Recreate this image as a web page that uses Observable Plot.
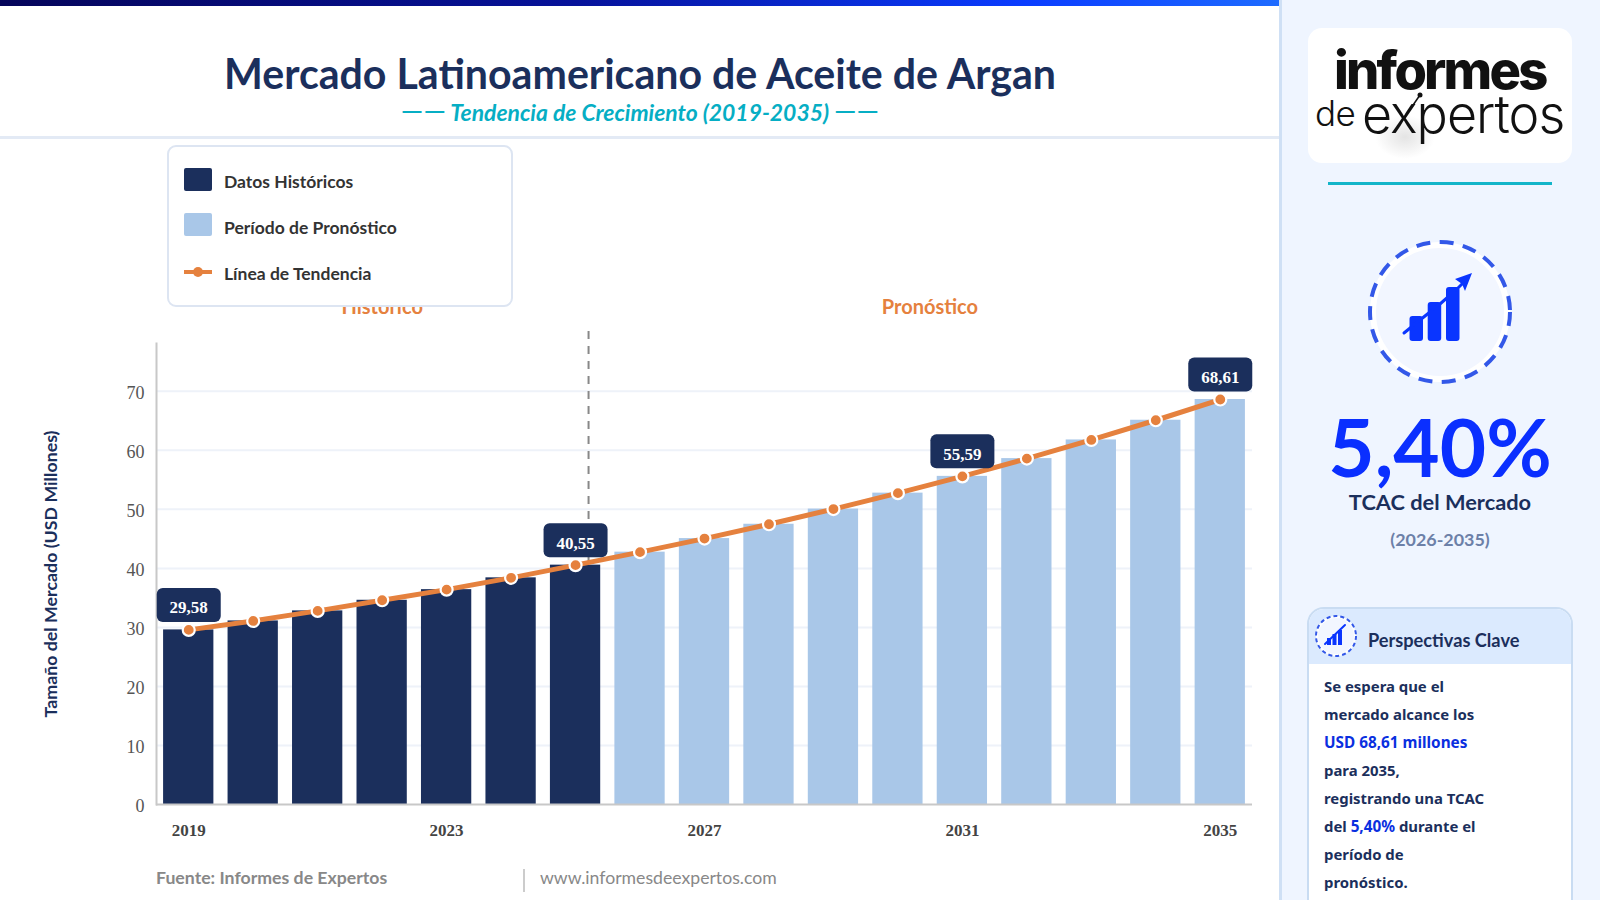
<!DOCTYPE html>
<html lang="es">
<head>
<meta charset="utf-8">
<title>Mercado Latinoamericano de Aceite de Argan</title>
<script src="https://cdn.jsdelivr.net/npm/d3@7"></script>
<script src="https://cdn.jsdelivr.net/npm/@observablehq/plot@0.6"></script>
<style>
html,body{margin:0;padding:0;width:1600px;height:900px;overflow:hidden;background:#fff;font-family:Lato,sans-serif}
.a{position:absolute;white-space:nowrap}
#topbar{left:0;top:0;width:1280px;height:6px;background:linear-gradient(90deg,#05055a 0%,#06129a 45%,#0a3cff 80%,#1e6bff 100%)}
#title{left:0;width:1280px;top:47px;text-align:center;font-size:41.1px;line-height:52px;font-weight:700;color:#1b2f5c}
#subtitle{left:0;width:1280px;top:96px;text-align:center;font-size:22.9px;line-height:28px;font-weight:700;font-style:italic;color:#06aec4}
#subtitle span{font-size:28.4px;font-style:normal;font-weight:400}
#rule{left:0;width:1280px;top:136px;height:3px;background:#e3eaf5}
#chart{left:0;top:290px}
#legend{left:167px;top:145px;width:342px;height:158px;background:#fff;border:2px solid #dde5f2;border-radius:9px;z-index:5}
.sw{position:absolute;left:15px;width:28px;height:23px;border-radius:2px}
.lt{position:absolute;left:55px;font-size:17.5px;line-height:22px;font-weight:700;color:#333;white-space:nowrap}
#fuente{left:156px;top:866px;font-size:17.7px;line-height:24px;font-weight:700;color:#888}
#sep{left:523px;top:869px;width:2px;height:23px;background:#ccc}
#web{left:540px;top:866px;font-size:17.65px;line-height:24px;color:#888}
#panel{left:1279px;top:0;width:321px;height:900px;background:#eff5ff;border-left:3px solid #cfe0f5;box-sizing:border-box}
#logo{left:1308px;top:28px;width:264px;height:135px;background:#fff;border-radius:14px}
#shadow{left:1375px;top:115px;width:60px;height:44px;background:radial-gradient(ellipse at center,#e4e4e4 0%,#ffffff 70%)}
.lg{color:#111;font-family:Inter,sans-serif}
#l1{left:1334px;top:48px;font-size:52.5px;line-height:44px;font-weight:800;letter-spacing:-2.8px}
#l2{left:1315px;top:98px;font-size:35px;line-height:30px;font-weight:300;letter-spacing:-.5px}
#l3{left:1362px;top:93px;font-size:52px;line-height:44px;font-weight:300;letter-spacing:-1px}
#teal{left:1328px;top:182px;width:224px;height:3px;background:#13b5c9}
#ic1{left:1360px;top:232px}
#kpi{left:1280px;width:320px;top:406px;text-align:center;font-size:80px;line-height:80px;font-weight:700;color:#0a2fff}
#kpil{left:1280px;width:320px;top:488px;text-align:center;font-size:21.8px;line-height:28px;font-weight:700;color:#1b2f5c}
#kpis{left:1280px;width:320px;top:527px;text-align:center;font-size:17.9px;line-height:24px;font-weight:700;color:#6c80a8}
#card{left:1307px;top:607px;width:266px;height:320px;background:#fff;border:2px solid #c9dcf2;border-radius:17px;box-sizing:border-box;overflow:hidden}
#cardh{position:absolute;left:0;top:0;right:0;height:55px;background:#dbeafe}
#ic2{left:1314px;top:614px}
#ct{left:1368px;top:627px;font-size:18.2px;line-height:26px;font-weight:700;color:#1b2f5c}
#body{left:1324px;top:672px;font-family:"Noto Sans",sans-serif;font-size:14.9px;line-height:28px;font-weight:700;color:#1b2f5c}
#body b{color:#0a2fe0;font-weight:700;font-size:15.3px}
</style>
</head>
<body>
<div class="a" id="topbar"></div>
<div class="a" id="title">Mercado Latinoamericano de Aceite de Argan</div>
<div class="a" id="subtitle"><span>——</span> Tendencia de Crecimiento (2019-2035) <span>——</span></div>
<div class="a" id="rule"></div>
<div class="a" id="chart"></div>
<div class="a" id="legend">
  <div class="sw" style="top:21px;background:#1b2f5c"></div><div class="lt" style="top:24px">Datos Históricos</div>
  <div class="sw" style="top:66px;background:#a9c7e8"></div><div class="lt" style="top:70px">Período de Pronóstico</div>
  <svg style="position:absolute;left:15px;top:117px" width="28" height="16"><line x1="0" x2="28" y1="8" y2="8" stroke="#e5813e" stroke-width="4"/><circle cx="14" cy="8" r="5" fill="#e5813e"/></svg>
  <div class="lt" style="top:116px">Línea de Tendencia</div>
</div>
<div class="a" id="fuente">Fuente: Informes de Expertos</div>
<div class="a" id="sep"></div>
<div class="a" id="web">www.informesdeexpertos.com</div>

<div class="a" id="panel"></div>
<div class="a" id="logo"></div>
<div class="a" id="shadow"></div>
<div class="a lg" id="l1">informes</div>
<div class="a lg" id="l2">de</div>
<div class="a lg" id="l3">expertos</div>
<svg class="a" style="left:1395px;top:90px" width="34" height="40"><line x1="25" y1="5" x2="7" y2="31" stroke="#111" stroke-width="1.500"/><circle cx="25" cy="5" r="2.500" fill="#111"/></svg>
<div class="a" id="teal"></div>
<svg class="a" id="ic1" width="160" height="160" viewBox="0 0 160 160">
  <circle cx="80" cy="80" r="67" fill="#f2f6ff" stroke="#fff" stroke-width="6"/>
  <circle cx="80" cy="80" r="70" fill="none" stroke="#3358e8" stroke-width="4" stroke-dasharray="14 9.5"/>
  <rect x="49.500" y="84" width="13.500" height="25" rx="3" fill="#0a35ff"/>
  <rect x="67.700" y="70" width="13.500" height="39" rx="3" fill="#0a35ff"/>
  <rect x="86" y="55" width="13.500" height="54" rx="3" fill="#0a35ff"/>
  <path d="M44 101 L60 88 L80 72 L96 58 L104 50" fill="none" stroke="#0a35ff" stroke-width="3" stroke-linecap="round"/>
  <path d="M112 41 L95 47 L102 52 L105 59 Z" fill="#0a35ff"/>
</svg>
<div class="a" id="kpi">5,40%</div>
<div class="a" id="kpil">TCAC del Mercado</div>
<div class="a" id="kpis">(2026-2035)</div>
<div class="a" id="card"><div id="cardh"></div></div>
<svg class="a" id="ic2" width="44" height="44" viewBox="0 0 44 44">
  <circle cx="22" cy="22" r="19" fill="#f2f6ff" stroke="#fff" stroke-width="2"/>
  <circle cx="22" cy="22" r="20" fill="none" stroke="#3358e8" stroke-width="2" stroke-dasharray="4 3"/>
  <rect x="13" y="24" width="4" height="7" fill="#0a35ff"/>
  <rect x="18.500" y="20" width="4" height="11" fill="#0a35ff"/>
  <rect x="24" y="16" width="4" height="15" fill="#0a35ff"/>
  <path d="M11 30 L31 11" stroke="#0a35ff" stroke-width="2" stroke-linecap="round"/>
</svg>
<div class="a" id="ct">Perspectivas Clave</div>
<div class="a" id="body">Se espera que el<br>mercado alcance los<br><b>USD 68,61 millones</b><br>para 2035,<br>registrando una TCAC<br>del <b>5,40%</b> durante el<br>período de<br>pronóstico.</div>

<script>
const years = [2019,2020,2021,2022,2023,2024,2025,2026,2027,2028,2029,2030,2031,2032,2033,2034,2035];
const values = [29.58,31.1,32.8,34.6,36.4,38.4,40.55,42.75,45.05,47.48,50.05,52.75,55.59,58.6,61.76,65.1,68.61];
const phases = ["Datos Históricos","Datos Históricos","Datos Históricos","Datos Históricos","Datos Históricos","Datos Históricos","Datos Históricos","Período de Pronóstico","Período de Pronóstico","Período de Pronóstico","Período de Pronóstico","Período de Pronóstico","Período de Pronóstico","Período de Pronóstico","Período de Pronóstico","Período de Pronóstico","Período de Pronóstico"];
const xTicks = [2019,2023,2027,2031,2035];
const yTicks = [0,10,20,30,40,50,60,70];
const labelYears = [2019,2025,2031,2035];
const yTitle = "Tamaño del Mercado (USD Millones)";

const rows = years.map((year,i)=>({year,value:values[i],phase:phases[i]}));
const labelled = rows.filter(d=>labelYears.includes(d.year));
const fmt = v => v.toFixed(2).replace(".",",");
const navy="#1b2f5c", light="#a9c7e8", orange="#e5813e";
const serif='"Liberation Serif",serif';

const labelBox = {draw(c){
  const w=32,h=17,r=6;
  c.moveTo(-w+r,-h);
  c.arcTo(w,-h,w,-h+r,r); c.arcTo(w,h,w-r,h,r);
  c.arcTo(-w,h,-w,h-r,r); c.arcTo(-w,-h,-w+r,-h,r);
  c.closePath();
}};

const plot = Plot.plot({
  width:1280, height:610,
  marginTop:53, marginBottom:96, marginLeft:156, marginRight:28,
  style:{background:"transparent",overflow:"visible"},
  x:{type:"band",domain:years,paddingInner:.22,paddingOuter:.11,round:false,label:null},
  y:{domain:[0,78.1],label:null},
  color:{domain:["Datos Históricos","Período de Pronóstico"],range:[navy,light]},
  marks:[
    Plot.gridY(yTicks.slice(1),{stroke:"#eef2f9",strokeOpacity:1,strokeWidth:2}),
    Plot.ruleX([2025],{dx:13,y1:0,y2:80.4,stroke:"#888",strokeWidth:2,strokeDasharray:"8 7"}),
    Plot.barY(rows,{x:"year",y:"value",fill:"phase"}),
    Plot.frame({anchor:"left",stroke:"#c8c8c8",strokeWidth:2}),
    Plot.ruleY([0],{stroke:"#c8c8c8",strokeWidth:2}),
    Plot.axisY({ticks:yTicks,tickSize:0,tickPadding:12,dy:1.5,label:null,fontFamily:serif,fontSize:18,fill:"#555"}),
    Plot.axisX({ticks:xTicks,tickSize:0,tickPadding:19,label:null,tickFormat:d=>String(d),fontFamily:serif,fontSize:17,fontWeight:700,fill:"#444"}),
    Plot.text([yTitle],{frameAnchor:"left",textAnchor:"middle",dx:-105,rotate:-90,fontFamily:"Lato",fontSize:17.8,fontWeight:700,fill:navy}),
    Plot.text(["Histórico"],{x:[2022],frameAnchor:"top",dy:-44,fontFamily:"Lato",fontSize:20,fontWeight:700,fill:orange}),
    Plot.text(["Pronóstico"],{x:[2030],dx:32,frameAnchor:"top",dy:-44,fontFamily:"Lato",fontSize:20,fontWeight:700,fill:orange}),
    Plot.lineY(rows,{x:"year",y:"value",stroke:orange,strokeWidth:5,curve:"linear"}),
    Plot.dot(rows,{x:"year",y:"value",r:6,fill:orange,stroke:"#fff",strokeWidth:2.2}),
    Plot.dot(labelled,{x:"year",y:"value",dy:-25,symbol:labelBox,fill:navy,stroke:"none"}),
    Plot.text(labelled,{x:"year",y:"value",text:d=>fmt(d.value),dy:-22,fontFamily:serif,fontSize:17,fontWeight:700,fill:"#fff"})
  ]
});
document.getElementById("chart").appendChild(plot);
</script>
</body>
</html>
